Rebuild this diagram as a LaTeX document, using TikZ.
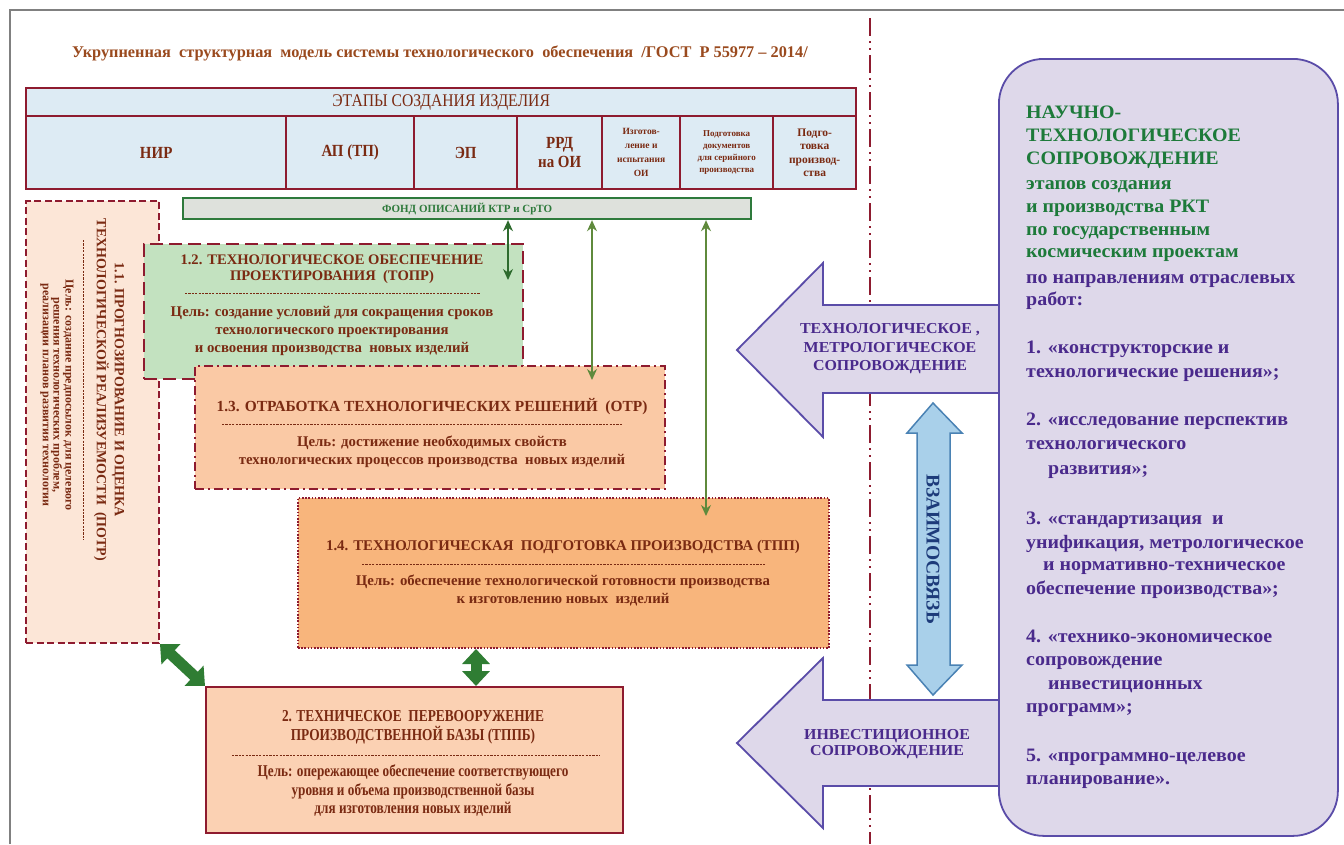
\documentclass[tikz,border=0pt]{standalone}
\usepackage{fontspec}
\setmainfont{Liberation Serif}
\newfontfamily\narrowserif[FakeStretch=0.88]{Liberation Serif}
\newfontfamily\tallserif[FakeStretch=0.8]{Liberation Serif}
\newfontfamily\wideserif[FakeStretch=1.05]{Liberation Serif}
\usetikzlibrary{arrows.meta}

\newcommand{\setfs}[2]{\fontsize{#1}{#2}\selectfont}

\definecolor{framegray}{HTML}{808080}
\definecolor{wine}{HTML}{8E1B2F}
\definecolor{inkbrown}{HTML}{7A2A12}
\definecolor{titlebrown}{HTML}{9A4A1E}
\definecolor{stagefill}{HTML}{DDEBF4}
\definecolor{fundfill}{HTML}{DEE1DC}
\definecolor{fundgreen}{HTML}{2E7A3C}
\definecolor{topfill}{HTML}{C3E2C0}
\definecolor{potrfill}{HTML}{FCE6D7}
\definecolor{otrfill}{HTML}{FAC9A5}
\definecolor{tppfill}{HTML}{F8B57C}
\definecolor{tppbfill}{HTML}{FBD1B3}
\definecolor{arrowgreen}{HTML}{2F7D33}
\definecolor{thingreen}{HTML}{2E6B2E}
\definecolor{olivegreen}{HTML}{5F8A3C}
\definecolor{lavfill}{HTML}{DED8EA}
\definecolor{lavline}{HTML}{5A4CA8}
\definecolor{violetink}{HTML}{4A2A8C}
\definecolor{greenink}{HTML}{1D7A3A}
\definecolor{skyfill}{HTML}{A9D0EA}
\definecolor{skyline}{HTML}{4A82B4}
\definecolor{navyink}{HTML}{1D3B7A}

\tikzset{
  stagecell/.style={draw=wine, line width=2.4pt, fill=stagefill, text=inkbrown,
    align=center, inner sep=1pt, anchor=north west, minimum height=73pt,
    font=\narrowserif\bfseries\setfs{17}{19}},
  plainbox/.style={anchor=north west, inner sep=0pt, draw=wine},
  boxhead/.style={font=\bfseries\setfs{14.6}{16}, text=inkbrown, align=center, inner sep=0pt},
  boxgoal/.style={font=\bfseries\setfs{14.8}{18}, text=inkbrown, align=center, inner sep=0pt},
  goalrule/.style={inkbrown, line width=0.7pt, dash pattern=on 2.2pt off 1.2pt},
  fundlink/.style={line width=1.3pt, {Stealth[length=11pt,width=10pt]}-{Stealth[length=11pt,width=10pt]}},
  bigdouble/.style={arrowgreen, line width=11pt, {Triangle[length=15pt,width=27pt]}-{Triangle[length=15pt,width=27pt]}},
  lavarrow/.style={fill=lavfill, draw=lavline, line width=1.8pt, line join=miter},
  arrowtext/.style={font=\wideserif\bfseries\setfs{15.2}{18.5}, text=violetink, align=center, inner sep=0pt},
  sideline/.style={anchor=west, inner sep=0pt, text height=0.7em, text depth=0.2em,
    font=\wideserif\bfseries\setfs{19}{22}},
}

\begin{document}
\begin{tikzpicture}[x=1pt,y=-1pt]
\useasboundingbox (0,0) rectangle (1344,844);
\fill[white] (0,0) rectangle (1344,844);

% page frame and the dividing line
\draw[framegray, line width=2pt] (10,844) -- (10,10) -- (1344,10);
\draw[wine, line width=2.2pt, dash pattern=on 18pt off 5pt on 2pt off 5pt on 2pt off 5pt] (870,18) -- (870,844);

% heading
\node[font=\bfseries\setfs{16.3}{19}, text=titlebrown] (title) at (440,53)
  {Укрупненная\ \ структурная\ \ модель системы технологического\ \ обеспечения\ \ /ГОСТ\ \ Р 55977 – 2014/};

% stages of product creation
\node[stagecell, minimum width=830pt, minimum height=28pt, font=\narrowserif\setfs{17.8}{19}] (stages) at (25,87) {ЭТАПЫ СОЗДАНИЯ ИЗДЕЛИЯ};
\node[stagecell, minimum width=260pt] (nir) at (25,115) {НИР};
\node[stagecell, minimum width=128pt] (ap) at (285,115) {АП (ТП)};
\node[stagecell, minimum width=103pt] (ep) at (413,115) {ЭП};
\node[stagecell, minimum width=85pt] (rrd) at (516,115) {РРД\\на ОИ};
\node[stagecell, minimum width=78pt, font=\bfseries\setfs{9.5}{14}] (izg) at (601,115) {Изготов-\\ление и\\испытания\\ОИ};
\node[stagecell, minimum width=93pt, font=\bfseries\setfs{9}{12}] (docs) at (679,115) {Подготовка\\документов\\для серийного\\производства};
\node[stagecell, minimum width=83pt, font=\bfseries\setfs{11.5}{13.5}] (prep) at (772,115) {Подго-\\товка\\производ-\\ства};

% description fund
\node[draw=fundgreen, line width=2.2pt, fill=fundfill, minimum width=568pt, minimum height=21pt,
  anchor=north west, inner sep=0pt, font=\bfseries\setfs{11}{12}, text=fundgreen] (fund) at (182,197)
  {ФОНД ОПИСАНИЙ КТР и СрТО};

% 1.1
\node[plainbox, line width=2pt, dash pattern=on 7pt off 3.5pt, fill=potrfill,
  minimum width=133pt, minimum height=442pt] (potr) at (25,200) {};
\node[boxhead, font=\bfseries\setfs{14}{18}, rotate=-90] (potrhead) at (109,390)
  {1.1. ПРОГНОЗИРОВАНИЕ И ОЦЕНКА\\ТЕХНОЛОГИЧЕСКОЙ РЕАЛИЗУЕМОСТИ\ \ (ПОТР)};
\draw[goalrule] (83,240) -- (83,540);
\node[boxgoal, font=\bfseries\setfs{12}{10.6}, rotate=-90] (potrgoal) at (57,395)
  {Цель: создание предпосылок для целевого\\решения технологических проблем,\\реализации планов развития технологии};

% 1.2
\node[plainbox, line width=2.4pt, dash pattern=on 13pt off 6pt, fill=topfill,
  minimum width=379pt, minimum height=135pt] (topr) at (143,243) {};
\node[boxhead] (tophead) at (332,269.5) {1.2. ТЕХНОЛОГИЧЕСКОЕ ОБЕСПЕЧЕНИЕ\\ПРОЕКТИРОВАНИЯ\ \ (ТОПР)};
\draw[goalrule] (185,293) -- (480,293);
\node[boxgoal] (topgoal) at (332,330.5) {Цель: создание условий для сокращения сроков\\технологического проектирования\\и освоения производства\ \ новых изделий};

% 1.3
\node[plainbox, line width=2.2pt, dash pattern=on 9pt off 4pt on 2pt off 4pt, fill=otrfill,
  minimum width=470pt, minimum height=123pt] (otr) at (194,365) {};
\node[boxhead, font=\bfseries\setfs{15.4}{16}] (otrhead) at (432,407) {1.3. ОТРАБОТКА ТЕХНОЛОГИЧЕСКИХ РЕШЕНИЙ\ \ (ОТР)};
\draw[goalrule] (222,424) -- (622,424);
\node[boxgoal] (otrgoal) at (432,452) {Цель: достижение необходимых свойств\\технологических процессов производства\ \ новых изделий};

% 1.4
\node[plainbox, line width=2pt, dash pattern=on 1.6pt off 1.6pt, fill=tppfill,
  minimum width=531pt, minimum height=150pt] (tpp) at (297,497) {};
\node[boxhead, font=\bfseries\setfs{14.85}{16}] (tpphead) at (563,547) {1.4. ТЕХНОЛОГИЧЕСКАЯ\ \ ПОДГОТОВКА ПРОИЗВОДСТВА (ТПП)};
\draw[goalrule] (362,564) -- (765,564);
\node[boxgoal] (tppgoal) at (563,590) {Цель: обеспечение технологической готовности производства\\к изготовлению новых\ \ изделий};

% 2
\node[plainbox, line width=2.4pt, fill=tppbfill, minimum width=417pt, minimum height=146pt] (tppb) at (205,686) {};
\node[boxhead, font=\tallserif\bfseries\setfs{16.7}{19}] (tppbhead) at (413,727) {2. ТЕХНИЧЕСКОЕ\ \ ПЕРЕВООРУЖЕНИЕ\\ПРОИЗВОДСТВЕННОЙ БАЗЫ (ТППБ)};
\draw[goalrule] (232,755) -- (600,755);
\node[boxgoal, font=\tallserif\bfseries\setfs{16.5}{18.5}] (tppbgoal) at (413,791) {Цель: опережающее обеспечение соответствующего\\уровня и объема производственной базы\\для изготовления новых изделий};

% links to the fund
\coordinate (k1) at (508,280);
\coordinate (k2) at (592,380);
\coordinate (k3) at (706,516);
\draw[fundlink, thingreen] (fund.south -| k1) -- (k1);
\draw[fundlink, olivegreen] (fund.south -| k2) -- (k2);
\draw[fundlink, olivegreen] (fund.south -| k3) -- (k3);

% links to the re-equipment block
\coordinate (vx) at (476,0);
\draw[bigdouble] (potr.south east) -- (tppb.north west);
\draw[bigdouble] (tpp.south -| vx) -- (tppb.north -| vx);

% support arrows
\draw[lavarrow] (998,305) -- (823,305) -- (823,263) -- (737,350) -- (823,437) -- (823,393) -- (998,393);
\draw[lavarrow] (998,700) -- (823,700) -- (823,658) -- (737,743) -- (823,828) -- (823,786) -- (998,786);
\node[arrowtext] (techsupport) at (890,349) {ТЕХНОЛОГИЧЕСКОЕ ,\\МЕТРОЛОГИЧЕСКОЕ\\СОПРОВОЖДЕНИЕ};
\node[arrowtext, font=\wideserif\bfseries\setfs{15.2}{16}] (investsupport) at (887,744) {ИНВЕСТИЦИОННОЕ\\СОПРОВОЖДЕНИЕ};

% interrelation arrow
\draw[fill=skyfill, draw=skyline, line width=1.5pt, line join=miter]
  (933,403) -- (962,433) -- (950,433) -- (950,665) -- (962,665) -- (933,695)
  -- (907,665) -- (917,665) -- (917,433) -- (907,433) -- cycle;
\node[font=\bfseries\setfs{19.5}{20}, text=navyink, rotate=-90, inner sep=0pt] (link) at (933,549) {ВЗАИМОСВЯЗЬ};

% scientific and technological support
\node[draw=lavline, line width=1.8pt, fill=lavfill, rounded corners=45pt,
  minimum width=339pt, minimum height=777pt, anchor=north west, inner sep=0pt] (nts) at (998,58) {};
\foreach \y/\t in {116/НАУЧНО-, 139/ТЕХНОЛОГИЧЕСКОЕ, 162/СОПРОВОЖДЕНИЕ,
    187/этапов создания, 210/и производства РКТ, 233/по государственным, 255/космическим проектам}
  \node[sideline, text=greenink] (nts-a\y) at (1026,\y) {\t};
\foreach \y/\x/\t in {281/1026/по направлениям отраслевых, 303/1026/работ:,
    351/1026/1. «конструкторские и, 375/1026/технологические решения»;,
    423/1026/2. «исследование перспектив, 447/1026/технологического, 472/1048/развития»;,
    522/1026/3. «стандартизация\ \ и, 546/1026/{унификация, метрологическое}, 568/1043/и нормативно-техническое, 592/1026/обеспечение производства»;,
    640/1026/4. «технико-экономическое, 663/1026/сопровождение, 687/1048/инвестиционных, 710/1026/программ»;,
    759/1026/5. «программно-целевое, 782/1026/планирование».}
  \node[sideline, text=violetink] (nts-c\y) at (\x,\y) {\t};
\end{tikzpicture}
\end{document}
